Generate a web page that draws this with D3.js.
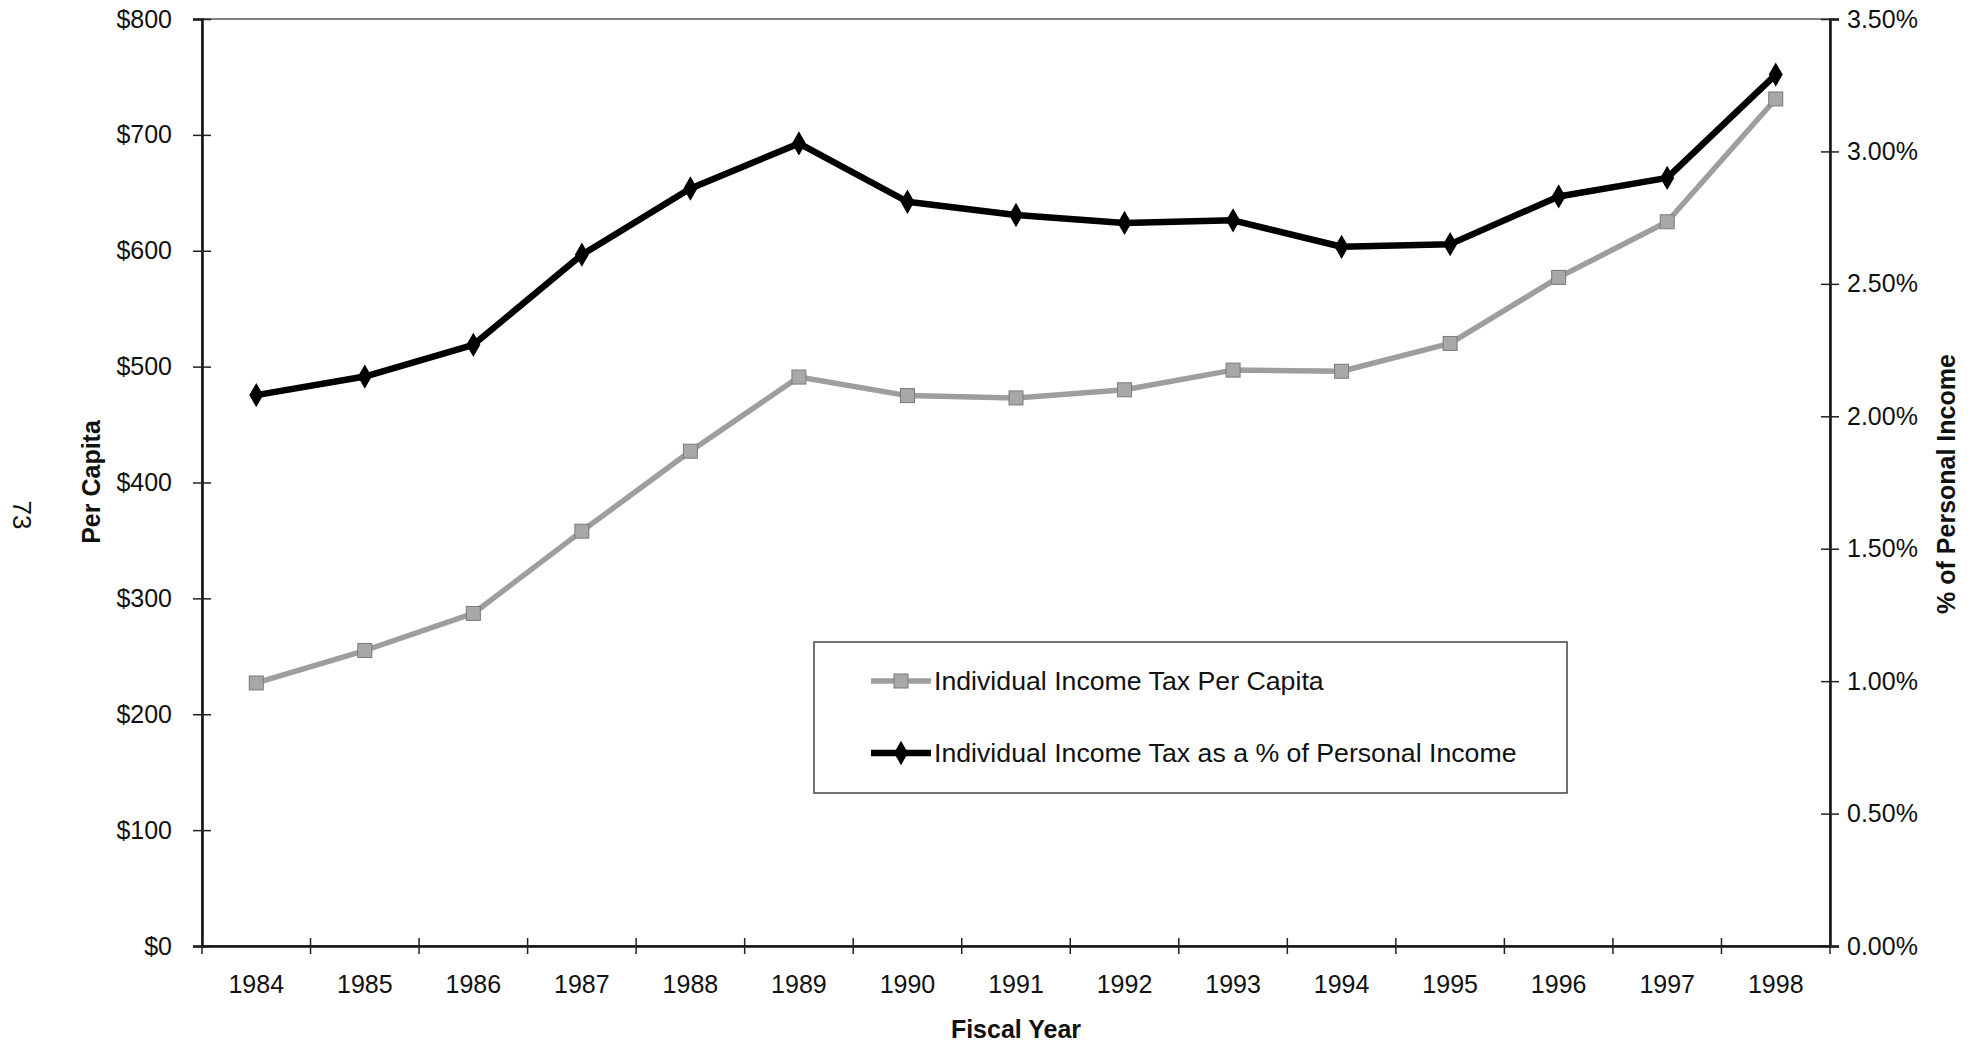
<!DOCTYPE html>
<html>
<head>
<meta charset="utf-8">
<script src="https://cdn.jsdelivr.net/npm/d3@7"></script>
<style>
  html, body { margin: 0; padding: 0; background: #fff; }
  svg { display: block; font-family: "Liberation Sans", Arial, Helvetica, sans-serif; }
</style>
</head>
<body>
<svg id="chart" width="1979" height="1045"></svg>
<script>
// ---- data ----
const years = ["1984","1985","1986","1987","1988","1989","1990","1991","1992","1993","1994","1995","1996","1997","1998"];
const perCapita = [227, 255, 287, 358, 427, 491, 475, 473, 480, 497, 496, 520, 577, 625, 731];
const pctIncome = [0.0208, 0.0215, 0.0227, 0.0261, 0.0286, 0.0303, 0.0281, 0.0276, 0.0273, 0.0274, 0.0264, 0.0265, 0.0283, 0.0290, 0.0329];
const leftTicks = [0, 100, 200, 300, 400, 500, 600, 700, 800];
const rightTicks = [0, 0.005, 0.01, 0.015, 0.02, 0.025, 0.03, 0.035];
const seriesNames = ["Individual Income Tax Per Capita", "Individual Income Tax as a % of Personal Income"];
const axisTitles = { x: "Fiscal Year", yLeft: "Per Capita", yRight: "% of Personal Income" };
const pageNumber = "73";

// ---- layout ----
const L = 202, R = 1830, T = 19, B = 946;
const svg = d3.select("#chart");
const FONT = 25;

const x = d3.scaleBand().domain(years).range([L, R]);
const yL = d3.scaleLinear().domain([0, 800]).range([B, T]);
const yR = d3.scaleLinear().domain([0, 0.035]).range([B, T]);

// frame (top & right border)
svg.append("rect").attr("x", L).attr("y", T).attr("width", R - L).attr("height", B - T)
  .attr("fill", "none").attr("stroke", "#555").attr("stroke-width", 1.5);

// left axis
const gl = svg.append("g").attr("transform", `translate(${L},0)`)
  .call(d3.axisLeft(yL).tickValues(leftTicks).tickFormat(d => "$" + d).tickSize(9).tickPadding(21));
gl.select(".domain").attr("stroke", "#111").attr("stroke-width", 2.5);
gl.selectAll(".tick line").attr("x1", -9).attr("x2", 9).attr("stroke", "#222").attr("stroke-width", 1.5);
gl.selectAll(".tick text").attr("font-size", FONT).attr("fill", "#111").attr("font-family", null);

// right axis
const gr = svg.append("g").attr("transform", `translate(${R},0)`)
  .call(d3.axisRight(yR).tickValues(rightTicks).tickFormat(d3.format(".2%")).tickSize(9).tickPadding(8));
gr.select(".domain").attr("stroke", "#111").attr("stroke-width", 2.5);
gr.selectAll(".tick line").attr("x1", -9).attr("x2", 9).attr("stroke", "#222").attr("stroke-width", 1.5);
gr.selectAll(".tick text").attr("font-size", FONT).attr("fill", "#111").attr("font-family", null);

// bottom axis (labels centred in bands, ticks at band boundaries)
const gb = svg.append("g").attr("transform", `translate(0,${B})`)
  .call(d3.axisBottom(x).tickSize(0).tickPadding(0));
gb.select(".domain").attr("stroke", "#111").attr("stroke-width", 2.5);
gb.selectAll(".tick text").attr("font-size", FONT).attr("fill", "#111").attr("font-family", null)
  .attr("y", 47).attr("dy", 0);
const bounds = years.map(d => x(d)).concat([x(years[years.length - 1]) + x.bandwidth()]);
gb.selectAll("line.bt").data(bounds).enter().append("line").attr("class", "bt")
  .attr("x1", d => d).attr("x2", d => d).attr("y1", -8).attr("y2", 8)
  .attr("stroke", "#222").attr("stroke-width", 1.5);

// axis titles
svg.append("text").attr("x", (L + R) / 2).attr("y", 1038).attr("text-anchor", "middle")
  .attr("font-size", FONT).attr("font-weight", "bold").attr("fill", "#111").text(axisTitles.x);
svg.append("text").attr("transform", "translate(100,482) rotate(-90)").attr("text-anchor", "middle")
  .attr("font-size", FONT).attr("font-weight", "bold").attr("fill", "#111").text(axisTitles.yLeft);
svg.append("text").attr("transform", "translate(1955,484) rotate(-90)").attr("text-anchor", "middle")
  .attr("font-size", FONT).attr("font-weight", "bold").attr("fill", "#111").text(axisTitles.yRight);
svg.append("text").attr("transform", "translate(13,515) rotate(90)").attr("text-anchor", "middle")
  .attr("font-size", 26).attr("fill", "#111").text(pageNumber);

const cx = d => x(d) + x.bandwidth() / 2;

// black series: % of personal income
const lineR = d3.line().x((d, i) => cx(years[i])).y(d => yR(d));
svg.append("path").datum(pctIncome).attr("d", lineR).attr("fill", "none")
  .attr("stroke", "#000").attr("stroke-width", 6.5).attr("stroke-linejoin", "round");
const diamond = d3.symbol().type(d3.symbolDiamond).size(170);
svg.selectAll("path.dm").data(pctIncome).enter().append("path").attr("class", "dm")
  .attr("d", diamond).attr("transform", (d, i) => `translate(${cx(years[i])},${yR(d)})`)
  .attr("fill", "#000");

// gray series: per capita
const lineL = d3.line().x((d, i) => cx(years[i])).y(d => yL(d));
svg.append("path").datum(perCapita).attr("d", lineL).attr("fill", "none")
  .attr("stroke", "#9e9e9e").attr("stroke-width", 5.5).attr("stroke-linejoin", "round");
svg.selectAll("rect.sq").data(perCapita).enter().append("rect").attr("class", "sq")
  .attr("x", (d, i) => cx(years[i]) - 7).attr("y", d => yL(d) - 7)
  .attr("width", 14).attr("height", 14)
  .attr("fill", "#a8a8a8").attr("stroke", "#7a7a7a").attr("stroke-width", 1);

// legend
const LF = 26.7;
const lg = svg.append("g");
lg.append("rect").attr("x", 814).attr("y", 642).attr("width", 753).attr("height", 151)
  .attr("fill", "#fff").attr("stroke", "#444").attr("stroke-width", 1.5);
const rows = [681, 753];
// row 1
lg.append("line").attr("x1", 871).attr("x2", 931).attr("y1", rows[0]).attr("y2", rows[0])
  .attr("stroke", "#9e9e9e").attr("stroke-width", 5.5);
lg.append("rect").attr("x", 894).attr("y", rows[0] - 7).attr("width", 14).attr("height", 14)
  .attr("fill", "#a8a8a8").attr("stroke", "#7a7a7a").attr("stroke-width", 1);
lg.append("text").attr("x", 934).attr("y", rows[0]).attr("dy", "0.35em")
  .attr("font-size", LF).attr("fill", "#111").text(seriesNames[0]);
// row 2
lg.append("line").attr("x1", 871).attr("x2", 931).attr("y1", rows[1]).attr("y2", rows[1])
  .attr("stroke", "#000").attr("stroke-width", 6.5);
lg.append("path").attr("d", diamond).attr("transform", `translate(901,${rows[1]})`).attr("fill", "#000");
lg.append("text").attr("x", 934).attr("y", rows[1]).attr("dy", "0.35em")
  .attr("font-size", LF).attr("fill", "#111").text(seriesNames[1]);
</script>
</body>
</html>
